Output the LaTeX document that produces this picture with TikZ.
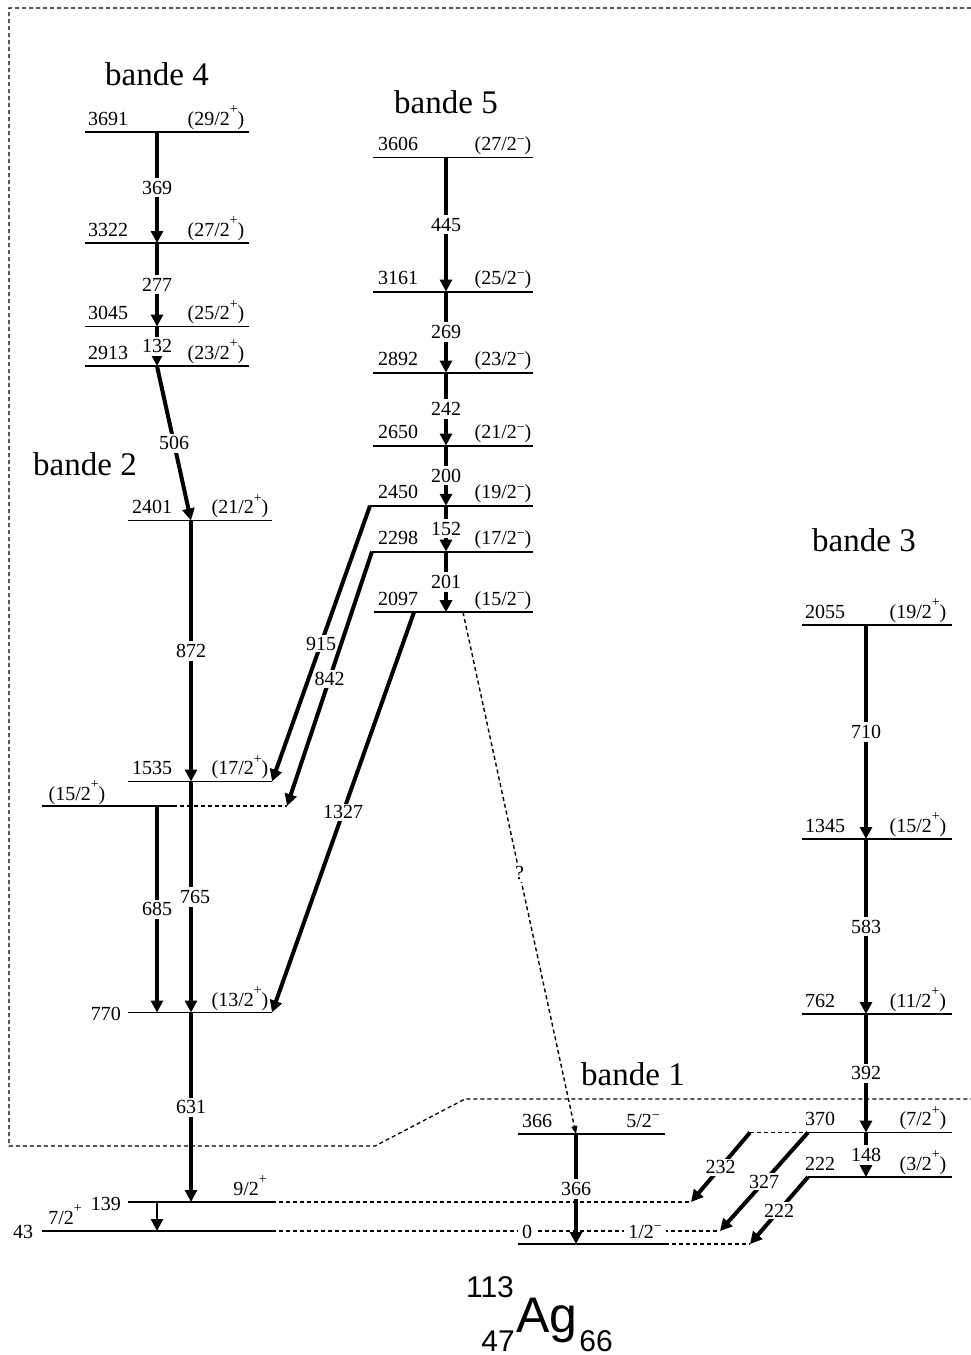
\documentclass[tikz,border=0pt]{standalone}
\usepackage{fontspec}
\setmainfont{Liberation Serif}
\newfontfamily\nucfont{Liberation Sans}
\usetikzlibrary{arrows.meta}
\newcommand\lvfont{\fontsize{20}{24}\selectfont}
\newcommand\bdfont{\fontsize{33}{40}\selectfont}
\newcommand\sgp{\raisebox{11.5pt}{\fontsize{14}{14}\selectfont +}}
\newcommand\sgm{\raisebox{7.5pt}{\fontsize{14}{14}\selectfont −}}
\newcommand\levline[4]{\coordinate (#1L) at (#2,#4); \coordinate (#1R) at (#3,#4); \draw[lvl] (#1L) -- (#1R);}
\begin{document}
\begin{tikzpicture}[x=1pt,y=-1pt,
  lvl/.style={line width=1.8pt},
  ext/.style={line width=1.5pt,dash pattern=on 4pt off 3pt},
  frame/.style={line width=1.3pt,dash pattern=on 4pt off 3pt},
  tr/.style={line width=4pt,-{Triangle[length=12pt,width=12pt]}},
  trthin/.style={line width=2.5pt,-{Triangle[length=12pt,width=12pt]}},
  unk/.style={line width=1.4pt,dash pattern=on 4pt off 3pt,-{Triangle[length=8pt,width=6pt]}},
  glab/.style={fill=white,inner xsep=1pt,inner ysep=3pt,font=\lvfont},
  slab/.style={fill=white,inner xsep=0.5pt,inner ysep=2pt,font=\lvfont},
  elab/.style={anchor=base,inner sep=0pt,font=\lvfont},
  band/.style={anchor=base,inner sep=0pt,font=\bdfont},
  nuc/.style={anchor=base,inner sep=0pt}]
\useasboundingbox (0,0) rectangle (971,1355);

% frame
\coordinate (f1) at (971,8); \coordinate (f2) at (9,8); \coordinate (f3) at (9,1146);
\coordinate (f4) at (375,1146); \coordinate (f5) at (465,1099); \coordinate (f6) at (971,1099);
\draw[frame] (f1) -- (f2) -- (f3) -- (f4) -- (f5) -- (f6);

% levels
\levline{a3691}{85}{249}{132}
\levline{a3322}{85}{249}{243}
\levline{a3045}{85}{249}{326.5}
\levline{a2913}{85}{249}{366}
\levline{a2401}{128}{272}{520.5}
\levline{a1535}{128}{272}{781.5}
\levline{a1517}{42}{173}{806}
\levline{a770}{128}{272}{1012.5}
\levline{a139}{128}{272}{1202}
\levline{a43}{42}{272}{1231}
\levline{a3606}{373}{533}{157.5}
\levline{a3161}{373}{533}{291.6}
\levline{a2892}{373}{533}{372.6}
\levline{a2650}{373}{533}{445.6}
\levline{a2450}{370}{533}{505.8}
\levline{a2298}{372}{533}{551.6}
\levline{a2097}{374}{533}{612.2}
\levline{a2055}{802}{952}{625}
\levline{a1345}{802}{952}{839}
\levline{a762}{802}{952}{1014}
\levline{a370}{808}{952}{1132.5}
\levline{a222}{808}{952}{1177}
\levline{a366}{518}{665}{1134}
\levline{a0}{518}{665}{1244}

% dashed extensions
\coordinate (e1517) at (287,806);
\coordinate (e139) at (691,1202);
\coordinate (e43) at (720,1231);
\coordinate (e0) at (750,1244);
\coordinate (e370) at (750,1132.5);
\draw[ext] (a1517R) -- (e1517);
\draw[ext] (a139R) -- (e139);
\draw[ext] (a43R) -- (e43);
\draw[ext] (a0R) -- (e0);
\draw[ext] (e370) -- (a370L);

% columns
\coordinate (k4) at (157,0);
\coordinate (k2) at (191,0);
\coordinate (k5) at (446,0);
\coordinate (k3) at (866,0);
\coordinate (k1) at (576,0);
\coordinate (p1327) at (414,612.2);
\coordinate (pq) at (463,612.2);

% bande 4
\draw[tr] (k4 |- a3691L) -- (k4 |- a3322L) node[glab,midway] (g369) {369};
\draw[tr] (k4 |- a3322L) -- (k4 |- a3045L) node[glab,midway] (g277) {277};
\draw[tr] (k4 |- a3045L) -- (k4 |- a2913L) node[glab,midway] (g132) {132};
\draw[tr] (k4 |- a2913L) -- (k2 |- a2401L) node[glab,midway] (g506) {506};
% bande 2
\draw[tr] (k2 |- a2401L) -- (k2 |- a1535L) node[glab,midway] (g872) {872};
\draw[tr] (k2 |- a1535L) -- (k2 |- a770L) node[glab,midway,xshift=4pt] (g765) {765};
\draw[tr] (k4 |- a1517L) -- (k4 |- a770L) node[glab,midway] (g685) {685};
\draw[tr] (k2 |- a770L) -- (k2 |- a139L) node[glab,midway] (g631) {631};
\draw[trthin] (k4 |- a139L) -- (k4 |- a43L);
% bande 5
\draw[tr] (k5 |- a3606L) -- (k5 |- a3161L) node[glab,midway] (g445) {445};
\draw[tr] (k5 |- a3161L) -- (k5 |- a2892L) node[glab,midway] (g269) {269};
\draw[tr] (k5 |- a2892L) -- (k5 |- a2650L) node[glab,midway] (g242) {242};
\draw[tr] (k5 |- a2650L) -- (k5 |- a2450L) node[glab,midway] (g200) {200};
\draw[tr] (k5 |- a2450L) -- (k5 |- a2298L) node[glab,midway] (g152) {152};
\draw[tr] (k5 |- a2298L) -- (k5 |- a2097L) node[glab,midway] (g201) {201};
% bande 3
\draw[tr] (k3 |- a2055L) -- (k3 |- a1345L) node[glab,midway] (g710) {710};
\draw[tr] (k3 |- a1345L) -- (k3 |- a762L) node[glab,midway] (g583) {583};
\draw[tr] (k3 |- a762L) -- (k3 |- a370L) node[glab,midway] (g392) {392};
\draw[tr] (k3 |- a370L) -- (k3 |- a222L) node[glab,midway] (g148) {148};
% bande 1
\draw[tr] (k1 |- a366L) -- (k1 |- a0L) node[glab,midway] (g366) {366};
% inter-band
\draw[tr] (a2450L) -- (a1535R) node[slab,midway] (g915) {915};
\draw[tr] (a2298L) -- (e1517) node[slab,midway] (g842) {842};
\draw[tr] (p1327) -- (a770R) node[slab,midway] (g1327) {1327};
\draw[unk] (pq) -- (k1 |- a366L) node[slab,midway] (gq) {?};
\draw[tr] (e370) -- (e139) node[slab,midway] (g232) {232};
\draw[tr] (a370L) -- (e43) node[slab,midway] (g327) {327};
\draw[tr] (a222L) -- (e0) node[slab,midway] (g222) {222};

% level labels bande 4
\node[elab] (t3691) at (108,125) {3691};  \node[elab] (s3691) at (216,125) {(29/2\sgp)};
\node[elab] (t3322) at (108,236) {3322};  \node[elab] (s3322) at (216,236) {(27/2\sgp)};
\node[elab] (t3045) at (108,319.5) {3045};\node[elab] (s3045) at (216,319.5) {(25/2\sgp)};
\node[elab] (t2913) at (108,359) {2913};  \node[elab] (s2913) at (216,359) {(23/2\sgp)};
% bande 2
\node[elab] (t2401) at (152,513.5) {2401}; \node[elab] (s2401) at (240,513.5) {(21/2\sgp)};
\node[elab] (t1535) at (152,774.5) {1535}; \node[elab] (s1535) at (240,774.5) {(17/2\sgp)};
\node[elab] (s1517) at (77,800) {(15/2\sgp)};
\node[elab,anchor=base east] (t770) at (121,1020) {770};
\node[elab] (s770) at (240,1006) {(13/2\sgp)};
\node[elab] (s139) at (250,1195) {9/2\sgp};
\node[elab,anchor=base east] (t139) at (121,1210) {139};
\node[elab] (s43) at (65,1224) {7/2\sgp};
\node[elab] (t43) at (23,1238) {43};
% bande 5
\node[elab] (t3606) at (398,150.5) {3606}; \node[elab] (s3606) at (503,150.5) {(27/2\sgm)};
\node[elab] (t3161) at (398,284.6) {3161}; \node[elab] (s3161) at (503,284.6) {(25/2\sgm)};
\node[elab] (t2892) at (398,365.6) {2892}; \node[elab] (s2892) at (503,365.6) {(23/2\sgm)};
\node[elab] (t2650) at (398,438.6) {2650}; \node[elab] (s2650) at (503,438.6) {(21/2\sgm)};
\node[elab] (t2450) at (398,498.8) {2450}; \node[elab] (s2450) at (503,498.8) {(19/2\sgm)};
\node[elab] (t2298) at (398,544.6) {2298}; \node[elab] (s2298) at (503,544.6) {(17/2\sgm)};
\node[elab] (t2097) at (398,605.2) {2097}; \node[elab] (s2097) at (503,605.2) {(15/2\sgm)};
% bande 3
\node[elab] (t2055) at (825,618) {2055}; \node[elab] (s2055) at (918,618) {(19/2\sgp)};
\node[elab] (t1345) at (825,832) {1345}; \node[elab] (s1345) at (918,832) {(15/2\sgp)};
\node[elab] (t762) at (820,1007) {762};   \node[elab] (s762) at (918,1007) {(11/2\sgp)};
\node[elab] (t370) at (820,1125.5) {370}; \node[elab] (s370) at (923,1125.5) {(7/2\sgp)};
\node[elab] (t222) at (820,1170) {222};   \node[elab] (s222) at (923,1170) {(3/2\sgp)};
% bande 1
\node[elab] (t366) at (537,1127) {366};   \node[elab] (s366) at (643,1127) {5/2\sgm};
\node[elab,fill=white,inner xsep=4pt,inner ysep=1pt] (t0) at (527,1238) {0};
\node[elab,fill=white,inner xsep=4pt,inner ysep=1pt] (s0) at (645,1238) {1/2\sgm};

% band names
\node[band] (b4) at (157,85) {bande 4};
\node[band] (b5) at (446,113) {bande 5};
\node[band] (b2) at (85,475) {bande 2};
\node[band] (b3) at (864,551) {bande 3};
\node[band] (b1) at (633,1085) {bande 1};

% nuclide
\node[nuc,font=\nucfont\fontsize{50}{60}\selectfont] (agsym) at (547,1332) {Ag};
\node[nuc,font=\nucfont\fontsize{30}{36}\selectfont] (amass) at (490,1297) {113};
\node[nuc,font=\nucfont\fontsize{30}{36}\selectfont] (zeta) at (498,1351) {47};
\node[nuc,font=\nucfont\fontsize{30}{36}\selectfont] (nneut) at (596,1351) {66};
\end{tikzpicture}
\end{document}
